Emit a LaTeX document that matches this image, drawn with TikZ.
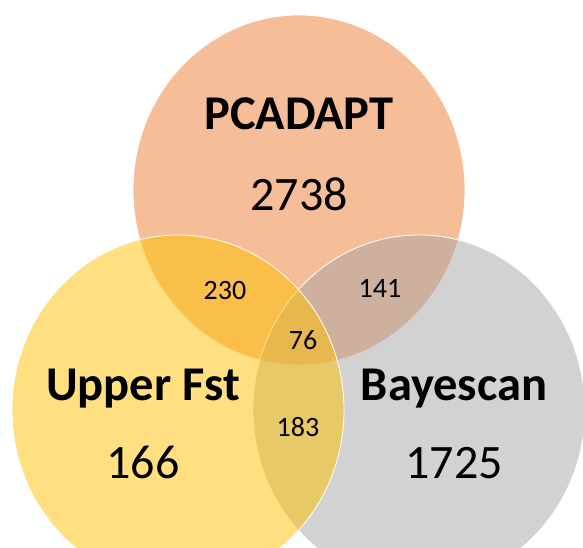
\documentclass[tikz,border=0pt]{standalone}
\usepackage{fontspec}
\setmainfont{Carlito}
\usetikzlibrary{shapes.geometric}
\definecolor{pcaorange}{HTML}{ED7D31}
\definecolor{fstgold}{HTML}{FFC000}
\definecolor{bayesgray}{HTML}{A5A5A5}

\begin{document}
\begin{tikzpicture}[x=1pt,y=-1pt]
\tikzstyle{set}=[ellipse,draw=white,line width=0.8pt,fill opacity=0.5,minimum width=332pt,minimum height=350pt,inner sep=0pt]
\tikzstyle{setname}=[anchor=base,font=\fontsize{48.5}{50}\selectfont\bfseries]
\tikzstyle{total}=[anchor=base,font=\fontsize{48}{50}\selectfont]
\tikzstyle{shared}=[anchor=base,font=\fontsize{28}{30}\selectfont]
\useasboundingbox (0,0) rectangle (583,548);
\clip (0,0) rectangle (583,548);
\node[set,fill=pcaorange] (PC) at (299,190) {};
\node[set,fill=bayesgray] (BA) at (419,410) {};
\node[set,fill=fstgold] (UF) at (178,410) {};
\node[setname] (PCname) at (299,130) {PCADAPT};
\node[total] (PCnum) at (299,210) {2738};
\node[setname] (UFname) at (143,400) {Upper Fst};
\node[total] (UFnum) at (143,478) {166};
\node[setname] (BAname) at (454,400) {Bayescan};
\node[total] (BAnum) at (454,478) {1725};
\node[shared] (PCUF) at (225,299) {230};
\node[shared] (PCBA) at (380,297) {141};
\node[shared] (ALL) at (303,349) {76};
\node[shared] (UFBA) at (298,436) {183};
\end{tikzpicture}
\end{document}
